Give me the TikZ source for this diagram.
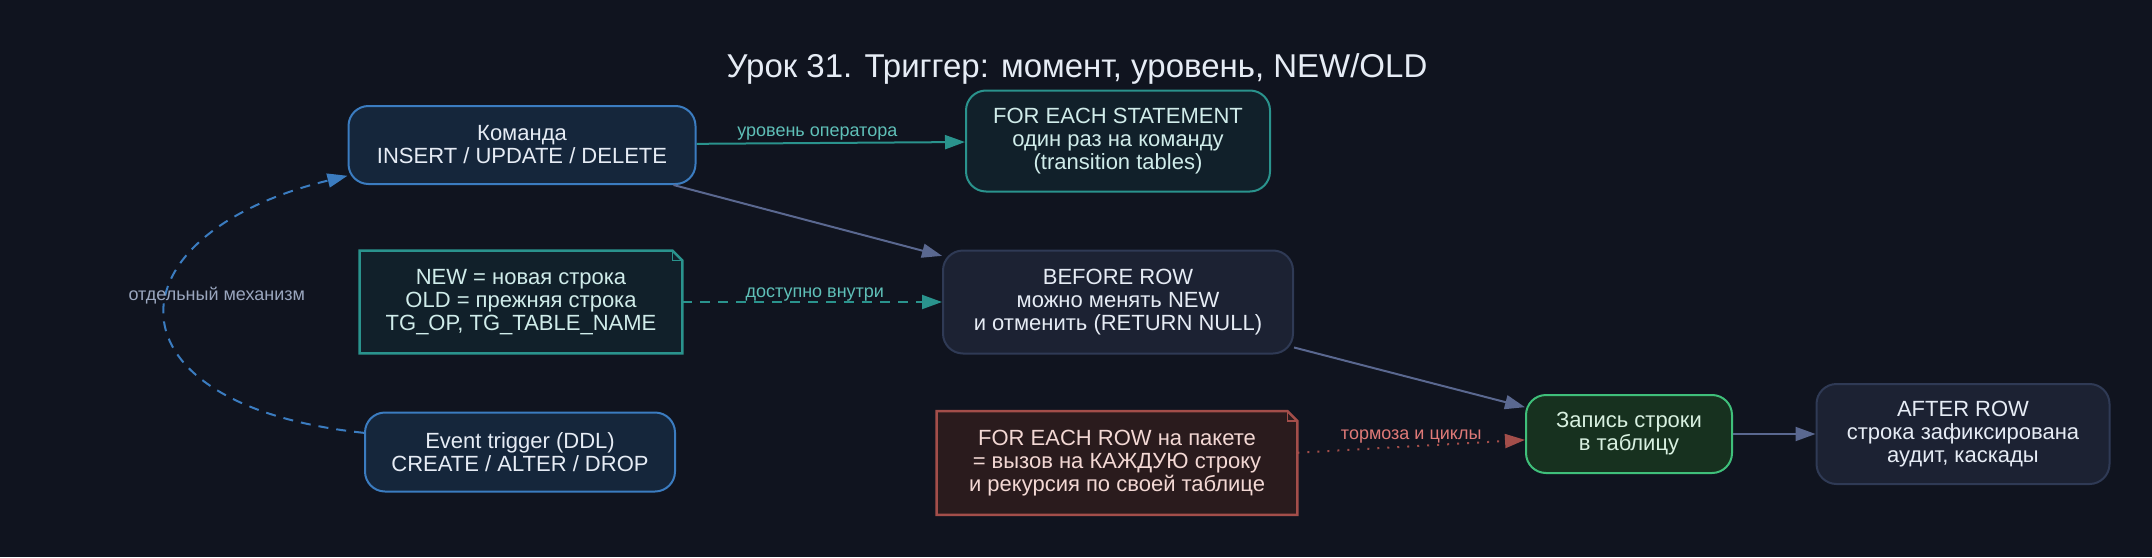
\documentclass[tikz,border=0pt]{standalone}
\usepackage{fontspec}
\setmainfont{Liberation Sans}
\usepackage{tikz}
\usetikzlibrary{arrows.meta,positioning}

\definecolor{bgc}{HTML}{10141F}
\definecolor{txtc}{HTML}{E6ECF5}
\definecolor{cmdfill}{HTML}{15263B}
\definecolor{cmdline}{HTML}{3B7CC0}
\definecolor{tealfill}{HTML}{11202A}
\definecolor{tealline}{HTML}{2A938D}
\definecolor{tealtxt}{HTML}{D0ECEA}
\definecolor{teallbl}{HTML}{5FC0B8}
\definecolor{rowfill}{HTML}{1C2233}
\definecolor{rowline}{HTML}{2F3A55}
\definecolor{redfill}{HTML}{2A1B1D}
\definecolor{redline}{HTML}{A34E4A}
\definecolor{redtxt}{HTML}{F3D8D4}
\definecolor{redlbl}{HTML}{E07A78}
\definecolor{greenfill}{HTML}{17311F}
\definecolor{greenline}{HTML}{3FBF7A}
\definecolor{greentxt}{HTML}{D8F0E0}
\definecolor{edgec}{HTML}{5A6890}
\definecolor{greylbl}{HTML}{9AA6BE}

\begin{document}
\begin{tikzpicture}[x=0.5pt,y=-0.5pt,
  box/.style={rectangle,rounded corners=10pt,line width=1pt,align=center,
    font=\fontsize{11}{11.5}\selectfont,inner sep=0pt},
  cmdbox/.style={box,draw=cmdline,fill=cmdfill,text=txtc},
  levelbox/.style={box,draw=tealline,fill=tealfill,text=tealtxt},
  rowbox/.style={box,draw=rowline,fill=rowfill,text=txtc},
  writebox/.style={box,draw=greenline,fill=greenfill,text=greentxt},
  notebox/.style={rectangle,align=center,font=\fontsize{11}{11.5}\selectfont,inner sep=0pt},
  lbl/.style={font=\fontsize{9}{10}\selectfont,inner sep=1pt},
  tip/.style={-{Triangle[length=10pt,width=7pt]},line width=1pt},
  flow/.style={tip,draw=edgec}]

\useasboundingbox (0,0) rectangle (2152,557);
\fill[bgc] (0,0) rectangle (2152,557);

\node[font=\fontsize{16.5}{18}\selectfont,text=txtc] (title) at (1077,69) {Урок 31. Триггер: момент, уровень, NEW/OLD};

\node[cmdbox,minimum width=173.5pt,minimum height=39pt] (cmd) at (522,145) {Команда\\INSERT / UPDATE / DELETE};
\node[levelbox,minimum width=152pt,minimum height=50.5pt] (stmt) at (1118,141) {FOR EACH STATEMENT\\один раз на команду\\(transition tables)};
\node[notebox,fill=tealfill,text=tealtxt,minimum width=161pt,minimum height=51pt] (newold) at (521,302) {NEW = новая строка\\OLD = прежняя строка\\TG\_OP, TG\_TABLE\_NAME};
\node[rowbox,minimum width=175pt,minimum height=51.5pt] (before) at (1118,302) {BEFORE ROW\\можно менять NEW\\и отменить (RETURN NULL)};
\node[cmdbox,minimum width=155pt,minimum height=39.5pt] (event) at (520,452) {Event trigger (DDL)\\CREATE / ALTER / DROP};
\node[notebox,fill=redfill,text=redtxt,minimum width=180pt,minimum height=51.5pt] (eachrow) at (1117,463) {FOR EACH ROW на пакете\\= вызов на КАЖДУЮ строку\\и рекурсия по своей таблице};
\node[writebox,minimum width=103pt,minimum height=39pt] (write) at (1629,434) {Запись строки\\в таблицу};
\node[rowbox,minimum width=146.5pt,minimum height=50pt] (after) at (1963,434) {AFTER ROW\\строка зафиксирована\\аудит, каскады};

\fill[bgc] ([xshift=-5pt]newold.north east) -- (newold.north east) -- ([yshift=-5pt]newold.north east) -- cycle;
\draw[tealline,line width=1.2pt] (newold.north west) -- ([xshift=-5pt]newold.north east) -- ([yshift=-5pt]newold.north east) -- (newold.south east) -- (newold.south west) -- cycle;
\draw[tealline,line width=0.8pt] ([xshift=-5pt]newold.north east) -- ([xshift=-5pt,yshift=-5pt]newold.north east) -- ([yshift=-5pt]newold.north east);

\fill[bgc] ([xshift=-5pt]eachrow.north east) -- (eachrow.north east) -- ([yshift=-5pt]eachrow.north east) -- cycle;
\draw[redline,line width=1.2pt] (eachrow.north west) -- ([xshift=-5pt]eachrow.north east) -- ([yshift=-5pt]eachrow.north east) -- (eachrow.south east) -- (eachrow.south west) -- cycle;
\draw[redline,line width=0.8pt] ([xshift=-5pt]eachrow.north east) -- ([xshift=-5pt,yshift=-5pt]eachrow.north east) -- ([yshift=-5pt]eachrow.north east);

\draw[tip,draw=tealline] (cmd) -- node[lbl,pos=0.45,above,text=teallbl] {уровень оператора} (stmt);
\draw[flow] (cmd) -- (before);
\draw[tip,draw=tealline,dash pattern=on 5pt off 4pt] (newold) -- node[lbl,pos=0.51,above,inner sep=0pt,text=teallbl] {доступно внутри} (before);
\draw[flow] (before) -- (write);
\draw[tip,draw=redline,dash pattern=on 1pt off 4pt] (eachrow) -- node[lbl,pos=0.5,above,text=redlbl] {тормоза и циклы} (write);
\draw[flow] (write) -- (after);
\draw[tip,draw=cmdline,dash pattern=on 5pt off 4pt] (event.173) .. controls (100,405) and (105,235) .. node[lbl,pos=0.5,xshift=25.5pt,yshift=10pt,text=greylbl] {отдельный механизм} (cmd.190);
\end{tikzpicture}
\end{document}
